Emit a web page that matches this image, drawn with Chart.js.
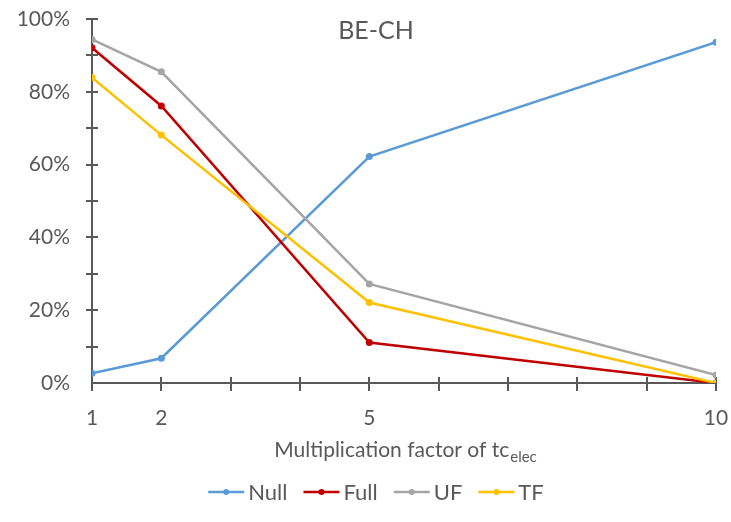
<!DOCTYPE html>
<html>
<head>
<meta charset="utf-8">
<script src="https://cdn.jsdelivr.net/npm/chart.js@4.4.1/dist/chart.umd.min.js"></script>
<style>
  body { margin: 0; background: #fff; }
</style>
</head>
<body>
<canvas id="mainChart" width="731" height="522"></canvas>
<script>
const xValues = [1, 2, 5, 10];
const xTickLabels = [1, 2, 5, 10];
const nullValues = [2.7, 6.8, 62.2, 93.6];
const fullValues = [92.1, 76.1, 11.1, 0];
const ufValues = [94.4, 85.5, 27.2, 2.2];
const tfValues = [83.9, 68.1, 22.1, 0];
const seriesNames = ['Null', 'Full', 'UF', 'TF'];

const textColor = '#595959';
const fontFamily = 'Lato, "Open Sans", sans-serif';

function pts(values) {
    return values.map((v, i) => ({ x: xValues[i], y: v }));
}

// tick marks crossing the axes, title, axis title and legend
const decorations = {
    id: 'decorations',
    beforeDatasetsDraw(chart) {
        const ctx = chart.ctx;
        const xs = chart.scales.x;
        const ys = chart.scales.y;
        const area = chart.chartArea;
        ctx.save();
        ctx.strokeStyle = textColor;
        ctx.lineWidth = 2;
        for (let v = 10; v <= 100; v += 10) {
            const py = Math.round(ys.getPixelForValue(v));
            ctx.beginPath();
            ctx.moveTo(area.left - 6, py);
            ctx.lineTo(area.left + 6, py);
            ctx.stroke();
        }
        for (let v = 1; v <= 10; v++) {
            const px = Math.round(xs.getPixelForValue(v));
            ctx.beginPath();
            ctx.moveTo(px, area.bottom - 6);
            ctx.lineTo(px, area.bottom + 8);
            ctx.stroke();
        }
        ctx.restore();
    },
    afterDraw(chart) {
        const ctx = chart.ctx;
        ctx.save();
        ctx.fillStyle = textColor;
        ctx.textBaseline = 'middle';

        // title
        ctx.font = '25px ' + fontFamily;
        ctx.textAlign = 'center';
        ctx.fillText('BE-CH', 376, 31);

        // x axis title with subscript
        ctx.textAlign = 'left';
        const mainText = 'Multiplication factor of tc';
        const subText = 'elec';
        ctx.font = '21px ' + fontFamily;
        const w1 = ctx.measureText(mainText).width;
        ctx.font = '15px ' + fontFamily;
        const w2 = ctx.measureText(subText).width;
        const startX = 405 - (w1 + w2) / 2;
        ctx.font = '21px ' + fontFamily;
        ctx.fillText(mainText, startX, 450);
        ctx.font = '15px ' + fontFamily;
        ctx.fillText(subText, startX + w1 + 1, 457);

        // legend
        ctx.font = '22px ' + fontFamily;
        const lineW = 36, gapText = 4, gapItem = 16;
        const items = chart.data.datasets.map(ds => ({
            label: ds.label, color: ds.borderColor,
            w: lineW + gapText + ctx.measureText(ds.label).width
        }));
        const total = items.reduce((s, it) => s + it.w, 0) + gapItem * (items.length - 1);
        let lx = 376 - total / 2;
        const ly = 492;
        items.forEach(it => {
            ctx.strokeStyle = it.color;
            ctx.lineWidth = 2.5;
            ctx.beginPath();
            ctx.moveTo(lx, ly);
            ctx.lineTo(lx + lineW, ly);
            ctx.stroke();
            ctx.fillStyle = it.color;
            ctx.beginPath();
            ctx.arc(lx + lineW / 2, ly, 3, 0, Math.PI * 2);
            ctx.fill();
            ctx.fillStyle = textColor;
            ctx.fillText(it.label, lx + lineW + gapText, ly + 1);
            lx += it.w + gapItem;
        });
        ctx.restore();
    }
};

function makeDataset(label, values, color, order) {
    return {
        label: label,
        data: pts(values),
        borderColor: color,
        backgroundColor: color,
        borderWidth: 2.5,
        pointRadius: 3.5,
        pointHoverRadius: 3.5,
        pointBorderWidth: 0,
        tension: 0,
        fill: false,
        order: order
    };
}

const ctx = document.getElementById('mainChart').getContext('2d');
const mainChart = new Chart(ctx, {
    type: 'line',
    data: {
        datasets: [
            makeDataset(seriesNames[0], nullValues, '#5B9BD5', 3),
            makeDataset(seriesNames[1], fullValues, '#C00000', 2),
            makeDataset(seriesNames[2], ufValues, '#A5A5A5', 1),
            makeDataset(seriesNames[3], tfValues, '#FFC000', 0)
        ]
    },
    options: {
        responsive: false,
        animation: false,
        layout: { padding: { top: 19, right: 15, left: 0, bottom: 0 } },
        plugins: {
            legend: { display: false },
            tooltip: { enabled: false }
        },
        scales: {
            x: {
                type: 'linear',
                min: 1,
                max: 10,
                afterFit: s => { s.height = 139; s.paddingLeft = 0; s.paddingRight = 0; },
                afterBuildTicks: s => { s.ticks = []; for (let v = 1; v <= 10; v++) s.ticks.push({ value: v }); },
                grid: { display: false, drawTicks: false },
                border: { display: true, color: textColor, width: 2 },
                ticks: {
                    autoSkip: false,
                    maxRotation: 0,
                    padding: 23,
                    color: textColor,
                    font: { family: fontFamily, size: 21 },
                    callback: v => xTickLabels.includes(v) ? String(v) : ''
                }
            },
            y: {
                min: 0,
                max: 100,
                afterFit: s => { s.width = 92; s.paddingTop = 0; s.paddingBottom = 0; },
                grid: { display: false, drawTicks: false },
                border: { display: true, color: textColor, width: 2 },
                ticks: {
                    stepSize: 20,
                    padding: 22,
                    color: textColor,
                    font: { family: fontFamily, size: 21 },
                    callback: v => v + '%'
                }
            }
        }
    },
    plugins: [decorations]
});
</script>
</body>
</html>
